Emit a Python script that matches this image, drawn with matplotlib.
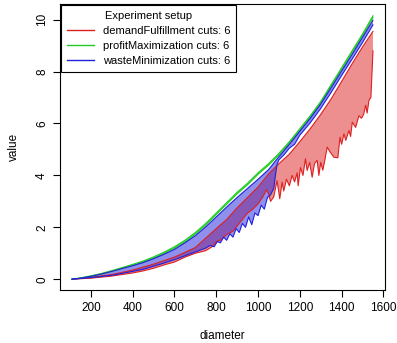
import numpy as np
import matplotlib
matplotlib.use("Agg")
import matplotlib.pyplot as plt

plt.rcParams['font.family'] = ['Liberation Sans', 'DejaVu Sans']

# profitMaximization band
green_x = [110, 150, 200, 250, 300, 350, 400, 450, 500, 550, 600, 650, 700, 750, 800, 850,
           900, 950, 1000, 1050, 1100, 1150, 1200, 1250, 1300, 1350, 1400, 1450, 1500, 1550]
green_hi = [0, 0.05, 0.13, 0.22, 0.33, 0.45, 0.57, 0.7, 0.86, 1.04, 1.25, 1.5, 1.8, 2.15,
            2.55, 2.95, 3.35, 3.7, 4.1, 4.45, 4.85, 5.3, 5.8, 6.3, 6.85, 7.5, 8.15, 8.8,
            9.45, 10.15]
green_lo = [0, 0.04, 0.11, 0.2, 0.3, 0.42, 0.53, 0.66, 0.81, 0.99, 1.2, 1.44, 1.74, 2.09,
            2.49, 2.89, 3.29, 3.64, 4.04, 4.39, 4.79, 5.24, 5.74, 6.24, 6.79, 7.44, 8.09,
            8.74, 9.39, 10.08]

# wasteMinimization band
blue_hi_x = green_x
blue_hi = [0, 0.04, 0.11, 0.2, 0.3, 0.41, 0.52, 0.64, 0.79, 0.96, 1.15, 1.4, 1.68, 2.02,
           2.4, 2.78, 3.15, 3.5, 3.85, 4.22, 4.72, 5.2, 5.7, 6.2, 6.75, 7.38, 8.02, 8.66,
           9.32, 9.98]
blue_lo_x = [110, 200, 300, 400, 450, 500, 550, 600, 650, 700, 750, 770, 790, 805, 820, 835,
             850, 865, 880, 895, 910, 925, 940, 955, 970, 985, 1000, 1015, 1030, 1045, 1060,
             1075, 1090, 1100, 1125, 1150, 1175, 1200, 1250, 1300, 1350, 1400, 1450, 1500,
             1550]
blue_lo = [0, 0.06, 0.15, 0.3, 0.38, 0.5, 0.62, 0.75, 0.9, 1.05, 1.2, 1.3, 1.25, 1.45, 1.4,
           1.62, 1.5, 1.75, 1.62, 1.95, 1.8, 2.15, 2.0, 2.4, 2.1, 2.55, 2.45, 2.85, 2.7,
           3.15, 3.25, 3.5, 4.4, 4.6, 4.8, 5.05, 5.2, 5.55, 6.03, 6.58, 7.2, 7.85, 8.48, 9.12,
           9.8]

# demandFulfillment band
red_hi_x = [110, 200, 300, 400, 500, 600, 700, 800, 850, 900, 950, 1000, 1050, 1100, 1150,
            1200, 1250, 1300, 1350, 1400, 1450, 1500, 1525, 1550]
red_hi = [0, 0.07, 0.18, 0.35, 0.58, 0.85, 1.22, 1.95, 2.3, 2.75, 3.15, 3.55, 4.05, 4.45,
          4.82, 5.3, 5.8, 6.35, 6.95, 7.62, 8.3, 8.95, 9.25, 9.55]
red_lo_x = [110, 200, 300, 400, 450, 500, 550, 600, 650, 700, 750, 780, 800, 820, 850, 880,
            900, 925, 950, 975, 1000, 1025, 1040, 1050, 1060, 1075, 1091, 1104, 1115, 1123,
            1136, 1150, 1163, 1175, 1187, 1192, 1203, 1215, 1227, 1235, 1247, 1259, 1270,
            1283, 1291, 1300, 1310, 1320, 1331, 1345, 1363, 1382, 1392, 1400, 1411, 1420,
            1435, 1443, 1451, 1467, 1483, 1495, 1505, 1515, 1522, 1531, 1540, 1550]
red_lo = [0, 0.04, 0.12, 0.24, 0.32, 0.42, 0.55, 0.66, 0.85, 1.0, 1.1, 1.25, 1.45, 1.5,
          1.72, 1.85, 2.05, 2.3, 2.55, 2.7, 2.9, 3.2, 3.45, 3.3, 3.0, 3.17, 3.8, 3.1, 3.74,
          3.4, 3.85, 3.6, 4.0, 3.75, 4.1, 3.6, 4.3, 4.0, 4.64, 4.19, 4.5, 3.93, 4.45, 4.58,
          4.0, 4.5, 4.2, 4.6, 5.09, 4.9, 4.7, 4.68, 5.47, 5.2, 5.6, 5.35, 5.73, 5.5, 6.05,
          5.85, 6.3, 6.2, 6.35, 6.7, 6.4, 6.9, 7.0, 8.8]

series = [
    ("demandFulfillment cuts: 6", "#DD2020", red_hi_x, red_hi, red_lo_x, red_lo),
    ("profitMaximization cuts: 6", "#20CC20", green_x, green_hi, green_x, green_lo),
    ("wasteMinimization cuts: 6", "#2020DD", blue_hi_x, blue_hi, blue_lo_x, blue_lo),
]

fig = plt.figure(figsize=(3.97, 3.43), dpi=100)
ax = fig.add_axes([0.151, 0.155, 0.819, 0.833])

handles = []
for label, col, xh, yh, xl, yl in series:
    px = np.concatenate([xh, xl[::-1]])
    py = np.concatenate([yh, yl[::-1]])
    ax.fill(px, py, color=col, alpha=0.5, lw=0)
    h, = ax.plot(xh, yh, color=col, lw=0.8, label=label)
    ax.plot(xl, yl, color=col, lw=0.8)
    handles.append(h)

ax.set_xlim(52, 1608)
ax.set_ylim(-0.41, 10.6)
ax.set_xticks(range(200, 1601, 200))
ax.set_yticks(range(0, 11, 2))
ax.tick_params(labelsize=8.5, length=5, width=0.8, direction='out')
for t in ax.get_yticklabels():
    t.set_rotation(90)
    t.set_va('center')
ax.set_xlabel("diameter", fontsize=8.5, labelpad=12)
ax.set_ylabel("value", fontsize=8.5, labelpad=12)
for s in ax.spines.values():
    s.set_linewidth(0.8)

leg = ax.legend(handles=handles, title="Experiment setup", loc='upper left',
                bbox_to_anchor=(0.0, 1.0), borderaxespad=0.1, fontsize=8,
                title_fontsize=8, fancybox=False, framealpha=1, edgecolor='black',
                handlelength=2.4, handletextpad=0.8, labelspacing=0.45,
                borderpad=0.55)
leg.get_frame().set_linewidth(0.8)
for lh in leg.get_lines():
    lh.set_linewidth(1.0)

fig.savefig("out.png", dpi=100)
